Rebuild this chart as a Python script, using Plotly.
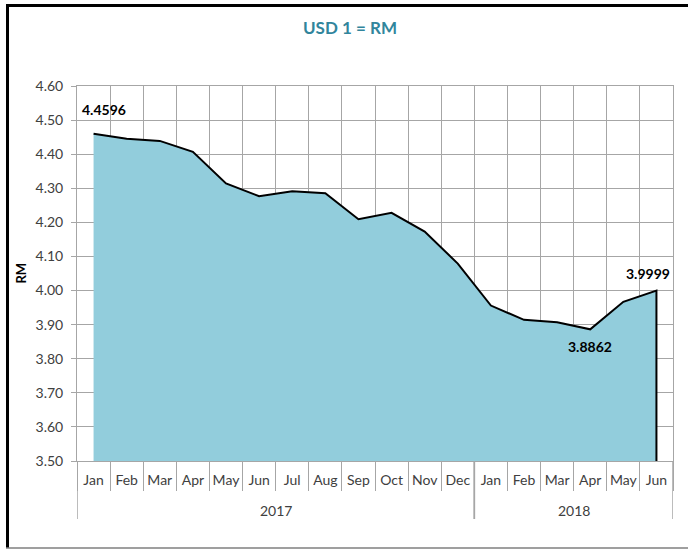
import plotly.graph_objects as go

months = ["Jan", "Feb", "Mar", "Apr", "May", "Jun", "Jul", "Aug", "Sep", "Oct", "Nov", "Dec",
          "Jan", "Feb", "Mar", "Apr", "May", "Jun"]
years = ["2017"] * 12 + ["2018"] * 6
rates = [4.4596, 4.4455, 4.4390, 4.4067, 4.3140, 4.2767, 4.2913, 4.2854, 4.2090,
         4.2280, 4.1730, 4.0790, 3.9560, 3.9140, 3.9070, 3.8862, 3.9670, 3.9999]
labelled = {0: (10, 24), 15: (0, -17), 17: (-8, 17)}  # index: (xshift, yshift)

y_min, y_max = 3.5, 4.6
W, H = 688, 550
ml, mr, mt, mb = 77, 15, 86, 89
pw, ph = W - ml - mr, H - mt - mb

def px(x):
    return (x - ml) / pw

def py(y):
    return (H - mb - y) / ph

fill_col = "#92CDDC"
grid_col = "#A6A6A6"
txt_col = "#404040"
font = "Lato, 'Open Sans', sans-serif"

idx = list(range(len(rates)))
bounds = [i - 0.5 for i in idx] + [idx[-1] + 0.5]

fig = go.Figure()

# area + outline down the right edge
fig.add_trace(go.Scatter(
    x=idx + [idx[-1]], y=rates + [y_min],
    mode="lines", fill="tozeroy", fillcolor=fill_col,
    line=dict(color="black", width=2), hoverinfo="skip", showlegend=False,
))

for i, (dx, dy) in labelled.items():
    fig.add_annotation(x=i, y=rates[i], text="<b>%.4f</b>" % rates[i], showarrow=False,
                       xshift=dx, yshift=dy, font=dict(size=14, color="black", family=font))

fig.add_annotation(x=px(20), y=0.5, xref="paper", yref="paper", text="<b>RM</b>",
                   xanchor="center", yanchor="middle",
                   textangle=-90, showarrow=False, font=dict(size=13, color="black", family=font))

# year groups: label + dividers
groups = []
for i, yr in enumerate(years):
    if not groups or groups[-1][0] != yr:
        groups.append([yr, i, i])
    groups[-1][2] = i
for yr, a, b in groups:
    fig.add_annotation(x=(a + b) / 2, y=py(510), xref="x", yref="paper", text=yr, showarrow=False,
                       yanchor="middle", font=dict(size=14, color=txt_col, family=font))
    for xb in (a - 0.5, b + 0.5):
        fig.add_shape(type="line", xref="x", yref="paper", x0=xb, x1=xb, y0=0, y1=py(519),
                      line=dict(color=grid_col, width=1.5))

# chart frame
fig.add_shape(type="line", xref="paper", yref="paper", x0=px(6), x1=px(W), y0=py(5.5), y1=py(5.5),
              line=dict(color="black", width=3))
fig.add_shape(type="line", xref="paper", yref="paper", x0=px(7.5), x1=px(7.5), y0=py(4), y1=py(548),
              line=dict(color="black", width=3))
fig.add_shape(type="line", xref="paper", yref="paper", x0=px(6), x1=px(W), y0=py(548), y1=py(548),
              line=dict(color="#7F7F7F", width=1.5))

fig.update_xaxes(
    range=[bounds[0], bounds[-1]], automargin=False,
    tickvals=idx, ticktext=months, tickangle=0, showgrid=False, ticks="",
    ticklabelstandoff=6,
    minor=dict(tickvals=bounds, showgrid=True, gridcolor=grid_col, gridwidth=1,
               ticks="outside", ticklen=29, tickcolor=grid_col),
    showline=True, linecolor=grid_col, mirror=True, zeroline=False,
    tickfont=dict(size=14, color=txt_col, family=font),
)
fig.update_yaxes(
    range=[y_min, y_max], dtick=0.1, tickformat=".2f", automargin=False,
    showgrid=True, gridcolor=grid_col, gridwidth=1,
    ticks="outside", ticklen=5, tickcolor=grid_col, ticklabelstandoff=5,
    showline=True, linecolor=grid_col, mirror=True, zeroline=False,
    tickfont=dict(size=14, color=txt_col, family=font),
)

fig.update_layout(
    width=W, height=H,
    margin=dict(l=ml, r=mr, t=mt, b=mb),
    paper_bgcolor="white", plot_bgcolor="white",
    title=dict(text="<b>USD 1 = RM</b>", x=350 / W, xanchor="center", y=1 - 28 / H, yanchor="middle",
               font=dict(size=17, color="#31859C", family=font)),
    showlegend=False,
)

fig.write_html("out.html", config={"displayModeBar": False},
               post_script="document.body.style.margin='0';")
